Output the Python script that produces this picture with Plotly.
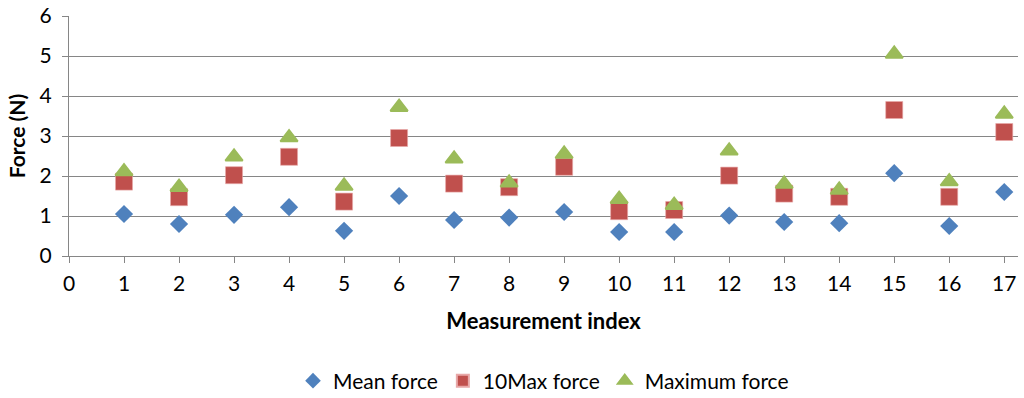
import plotly.graph_objects as go

index = list(range(1, 18))
mean_force = [1.05, 0.80, 1.03, 1.22, 0.63, 1.50, 0.90, 0.96, 1.10, 0.60, 0.60, 1.01, 0.85, 0.82, 2.07, 0.75, 1.60]
max10_force = [1.86, 1.47, 2.02, 2.48, 1.36, 2.95, 1.81, 1.72, 2.23, 1.12, 1.15, 2.01, 1.56, 1.48, 3.65, 1.48, 3.10]
max_force = [2.11, 1.72, 2.48, 2.96, 1.75, 3.72, 2.43, 1.83, 2.55, 1.42, 1.27, 2.63, 1.80, 1.65, 5.05, 1.86, 3.55]

FONT = "Lato, 'Open Sans', sans-serif"

fig = go.Figure()
fig.add_trace(go.Scatter(x=index, y=mean_force, mode="markers", name="Mean force",
                         marker=dict(symbol="diamond", size=14, color="#4F81BD",
                                     line=dict(width=0))))
fig.add_trace(go.Scatter(x=index, y=max10_force, mode="markers", name="10Max force",
                         marker=dict(symbol="square", size=17, color="#C0504D",
                                     line=dict(width=0.6, color="#E8A8A8"))))
fig.add_trace(go.Scatter(x=index, y=max_force, mode="markers", name="Maximum force",
                         marker=dict(symbol="triangle-up", size=15, color="#9BBB59",
                                     line=dict(width=2, color="#9BBB59"))))

fig.update_layout(
    width=1024, height=398,
    margin=dict(l=69, r=6, t=16, b=142, autoexpand=False),
    paper_bgcolor="white", plot_bgcolor="white",
    font=dict(family=FONT, size=21, color="#000000"),
    showlegend=True,
    legend=dict(orientation="h", x=0.5, xanchor="center",
                yref="container", y=1 - 381 / 398, yanchor="middle",
                font=dict(size=21), itemsizing="constant", traceorder="normal"),
)
fig.update_xaxes(
    range=[0, 17.25], dtick=1, tick0=0, showgrid=False,
    showline=True, linecolor="#868686", linewidth=1,
    ticks="outside", ticklen=6, tickcolor="#868686",
    zeroline=False, automargin=False, ticklabelstandoff=3,
    title=dict(text="<b>Measurement index</b>", font=dict(size=22), standoff=19),
)
fig.update_yaxes(
    range=[0, 6], dtick=1, showgrid=True, gridcolor="#868686", gridwidth=1,
    showline=True, linecolor="#868686", linewidth=1,
    ticks="outside", ticklen=6, tickcolor="#868686",
    zeroline=False, automargin=False, ticklabelstandoff=6,
    title=dict(text="<b>Force (N)</b>", font=dict(size=21), standoff=8),
)

fig.write_html(
    "out.html",
    config={"responsive": False, "displayModeBar": False},
    post_script="document.body.style.margin='0';document.body.style.overflow='hidden';",
)
